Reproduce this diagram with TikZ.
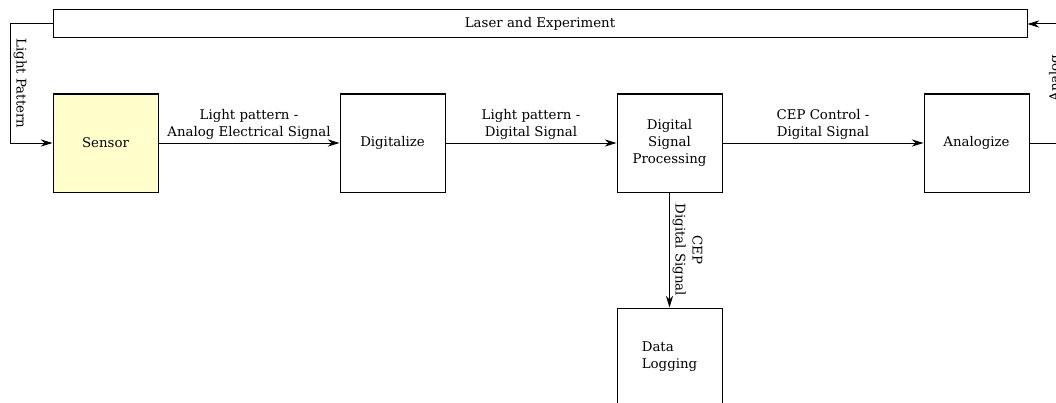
\documentclass[tikz,border=0pt]{standalone}
\usepackage{fontspec}
\setmainfont{DejaVu Serif}
\usepackage{xcolor}
\usetikzlibrary{arrows.meta,positioning}
\definecolor{sensorfill}{HTML}{FFFFCC}

\begin{document}
\begin{tikzpicture}[
x=0.75pt,y=-0.75pt,
font=\fontsize{10}{12.75}\selectfont,
block/.style={draw,line width=0.75pt,align=center,minimum width=78.75pt,minimum height=73.5pt,inner sep=1pt},
arrow/.style={-{Stealth[length=3.1mm,width=1.9mm]},line width=0.75pt},
lbl/.style={align=center,inner sep=2pt}
]
\clip (0,0) rectangle (1056,403);
\node[draw,line width=0.75pt,minimum width=730.5pt,minimum height=21pt,inner sep=0pt] (laser) at (540,24) {Laser and Experiment};
\node[block,fill=sensorfill] (sensor) at (105.5,143) {Sensor};
\node[block,right=135.75pt of sensor] (digit) {Digitalize};
\node[block,right=128.25pt of digit] (dsp) {Digital\\Signal\\Processing};
\node[block,right=150.75pt of dsp] (analog) {Analogize};
\node[block,below=86.25pt of dsp,align=left] (log) {Data\\Logging};
\draw[arrow] (laser.west) -- ++(-42,0) |- (sensor.west)
  node[lbl,pos=0.25,rotate=-90,anchor=south] {Light Pattern};
\draw[arrow] (sensor) -- node[lbl,above] {Light pattern -\\Analog Electrical Signal} (digit);
\draw[arrow] (digit) -- node[lbl,above] {Light pattern -\\Digital Signal} (dsp);
\draw[arrow] (dsp) -- node[lbl,above] {CEP Control -\\Digital Signal} (analog);
\draw[arrow] (dsp) -- node[lbl,rotate=-90,anchor=south] {CEP\\Digital Signal} (log);
\draw[arrow] (analog.east) -- ++(44,0) |- (laser.east);
\node[lbl,rotate=90,anchor=north] (analoglbl) at (1046,78) {Analog};
\end{tikzpicture}
\end{document}
